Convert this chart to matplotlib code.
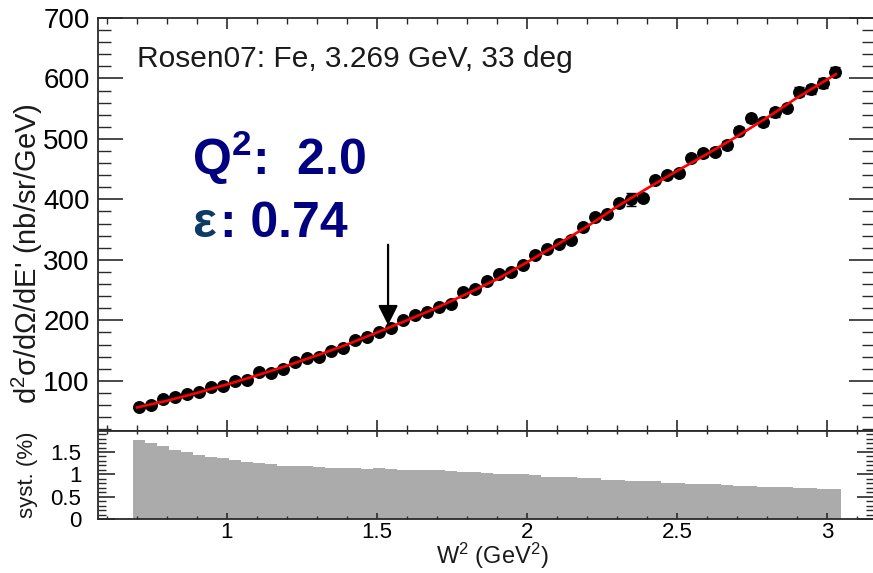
import numpy as np
import matplotlib
matplotlib.use("Agg")
import matplotlib.pyplot as plt
from matplotlib.ticker import MultipleLocator, FuncFormatter

plt.rcParams["font.family"] = ["Liberation Sans", "DejaVu Sans"]
plt.rcParams["mathtext.fontset"] = "custom"
plt.rcParams["mathtext.rm"] = "Liberation Sans"
plt.rcParams["mathtext.bf"] = "Liberation Sans:bold"
plt.rcParams["mathtext.it"] = "Liberation Sans:italic"

# ---------------------------------------------------------------------------
# Data
# ---------------------------------------------------------------------------
w2 = np.round(np.arange(59) * 0.04 + 0.707, 3)

xsec = [56.5, 60.8, 69.7, 74.0, 77.4, 81.8, 89.0, 92.0, 100.0, 101.6,
        114.0, 112.7, 119.8, 131.0, 138.5, 140.0, 148.5, 155.0, 167.8, 172.0,
        180.5, 187.0, 200.8, 209.0, 213.5, 222.8, 226.8, 247.6, 251.5, 265.8,
        276.9, 280.7, 291.7, 308.3, 318.2, 326.4, 333.1, 354.0, 371.6, 375.5,
        393.7, 400.3, 403.0, 432.2, 440.5, 443.3, 469.1, 476.4, 479.0, 490.1,
        513.7, 534.2, 527.6, 544.1, 550.7, 578.2, 582.1, 592.0, 611.2]

xsec_err = [2, 2, 2, 2, 2, 2, 2, 2, 2, 2,
            3, 3, 3, 3, 3, 3, 3, 3, 3, 3,
            3, 3, 3, 3, 3, 3, 3, 4, 4, 4,
            4, 4, 4, 4, 4, 4, 4, 4, 4, 4,
            5, 11, 5, 5, 5, 5, 5, 6, 6, 7,
            6, 6, 6, 7, 5, 7, 7, 8, 7]

model_w2 = [0.70, 0.80, 0.90, 1.00, 1.10, 1.20, 1.30, 1.40, 1.50, 1.60,
            1.70, 1.80, 1.90, 2.00, 2.10, 2.20, 2.30, 2.40, 2.50, 2.60,
            2.70, 2.80, 2.90, 3.03]
model_xsec = [56, 67, 80, 94, 109, 125, 142, 160, 180, 200,
              221, 244, 268, 296, 325, 355, 388, 418, 447, 475,
              504, 535, 568, 607]

syst = [1.77, 1.70, 1.64, 1.54, 1.50, 1.44, 1.39, 1.36, 1.31, 1.28,
        1.26, 1.23, 1.19, 1.19, 1.19, 1.17, 1.14, 1.14, 1.14, 1.12,
        1.14, 1.12, 1.09, 1.09, 1.09, 1.09, 1.07, 1.05, 1.05, 1.02,
        1.00, 1.00, 1.00, 0.98, 0.95, 0.95, 0.93, 0.91, 0.91, 0.88,
        0.88, 0.86, 0.86, 0.84, 0.81, 0.81, 0.79, 0.79, 0.79, 0.77,
        0.74, 0.74, 0.72, 0.72, 0.72, 0.70, 0.70, 0.67, 0.67]

arrow_w2 = 1.537
title_text = "Rosen07: Fe, 3.269 GeV, 33 deg"

# ---------------------------------------------------------------------------
# Figure layout (pixel based, 873 x 573)
# ---------------------------------------------------------------------------
W, H = 873, 573
fig = plt.figure(figsize=(W / 100, H / 100), dpi=100)

def px_axes(x0, y0, x1, y1):
    return fig.add_axes([x0 / W, 1 - y1 / H, (x1 - x0) / W, (y1 - y0) / H])

ax = px_axes(98, 18, 874, 431)
ax2 = px_axes(98, 431, 874, 519)

spine_col = "#2a2a2a"
fmt_g = FuncFormatter(lambda v, p: f"{v:g}")
for a in (ax, ax2):
    for s in a.spines.values():
        s.set_color(spine_col)
        s.set_linewidth(1.3)
    a.set_xlim(0.57, 3.157)
    a.xaxis.set_major_locator(MultipleLocator(0.5))
    a.xaxis.set_minor_locator(MultipleLocator(0.1))
    a.xaxis.set_major_formatter(fmt_g)

# ---------------------------------------------------------------------------
# Upper panel
# ---------------------------------------------------------------------------
ax.errorbar(w2, xsec, yerr=xsec_err, fmt="o", color="black", ms=8.3,
            capsize=3.5, elinewidth=1.0, capthick=1.0, zorder=3)
ax.plot(model_w2, model_xsec, color="red", lw=1.9, zorder=4)

ax.set_ylim(17, 700)
ax.yaxis.set_major_locator(MultipleLocator(100))
ax.yaxis.set_minor_locator(MultipleLocator(20))
ax.tick_params(axis="y", which="major", direction="in", length=18, width=1.2,
               left=True, right=True, labelsize=20, color=spine_col, pad=6)
ax.tick_params(axis="y", which="minor", direction="in", length=9, width=1.0,
               left=True, right=True, color=spine_col)
ax.tick_params(axis="x", which="major", direction="in", length=8, width=1.2,
               top=True, bottom=True, labelbottom=False, color=spine_col)
ax.tick_params(axis="x", which="minor", direction="in", length=4.5, width=1.0,
               top=True, bottom=True, color=spine_col)

ax.annotate("", xy=(arrow_w2, 192), xytext=(arrow_w2, 325),
            arrowprops=dict(arrowstyle="-|>", color="black", lw=1.6,
                            mutation_scale=30, shrinkA=0, shrinkB=0))

fig.text(137 / W, 1 - 67 / H, title_text, fontsize=21.5, color="#1a1a1a",
         ha="left", va="baseline")
fig.text(192 / W, 1 - 175 / H, r"Q$^{\mathbf{2}}$:  2.0", fontsize=36,
         fontweight="bold", color="#000080", ha="left", va="baseline")
fig.text(192 / W, 1 - 237 / H, "ε", fontsize=36, fontweight="bold",
         color="#0d3b66", ha="left", va="baseline")
fig.text(220 / W, 1 - 237 / H, ": 0.74", fontsize=36, fontweight="bold",
         color="#000080", ha="left", va="baseline")

fig.text(27 / W, 1 - 254 / H, r"d$^{2}$σ/dΩ/dE' (nb/sr/GeV)", fontsize=21,
         rotation=90, ha="center", va="center", color="#1a1a1a")

# ---------------------------------------------------------------------------
# Lower panel: systematic uncertainty
# ---------------------------------------------------------------------------
ax2.bar(w2, syst, width=0.04, color="#ababab", edgecolor="none")
ax2.set_ylim(0, 1.97)
ax2.yaxis.set_major_locator(MultipleLocator(0.5))
ax2.yaxis.set_minor_locator(MultipleLocator(0.1))
ax2.yaxis.set_major_formatter(fmt_g)
ax2.tick_params(axis="y", which="major", direction="in", length=12, width=1.2,
                left=True, right=True, labelsize=16, color=spine_col, pad=12)
ax2.tick_params(axis="y", which="minor", direction="in", length=6, width=1.0,
                left=True, right=True, color=spine_col)
ax2.tick_params(axis="x", which="major", direction="in", length=4, width=1.2,
                top=True, bottom=True, labelsize=16, color=spine_col, pad=2)
ax2.tick_params(axis="x", which="minor", direction="in", length=2, width=1.0,
                top=True, bottom=True, color=spine_col)

fig.text(28 / W, 1 - 475 / H, "syst. (%)", fontsize=16, rotation=90,
         ha="center", va="center", color="#1a1a1a")
fig.text(492 / W, 1 - 564 / H, r"W$^{2}$ (GeV$^{2}$)", fontsize=17,
         ha="center", va="baseline", color="#1a1a1a")

fig.savefig("out.png", dpi=100)
